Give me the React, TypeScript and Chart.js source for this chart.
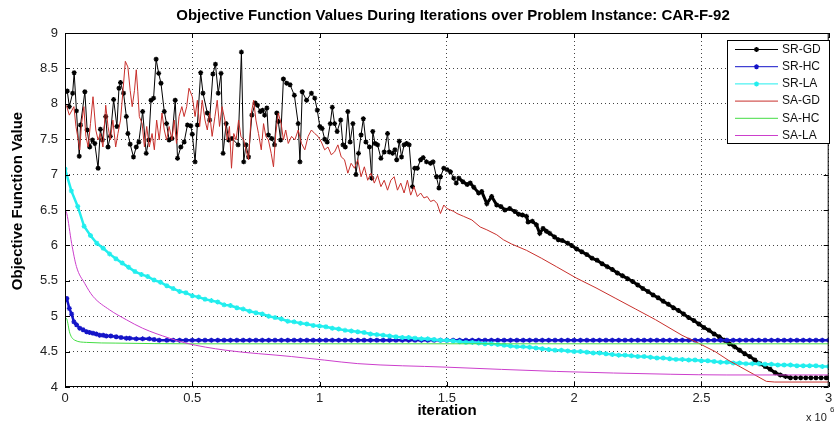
import React, { useEffect, useRef } from 'react';
import { Chart, registerables } from 'chart.js';

Chart.register(...registerables);

const FONT = '"Liberation Sans", Arial, sans-serif';

const titleText = 'Objective Function Values During Iterations over Problem Instance: CAR-F-92';
const xTitle = 'iteration';
const yTitle = 'Objective Function Value';
const xTicks = [0, 0.5, 1, 1.5, 2, 2.5, 3];
const yTicks = [4, 4.5, 5, 5.5, 6, 6.5, 7, 7.5, 8, 8.5, 9];
const seriesNames = ['SR-GD', 'SR-HC', 'SR-LA', 'SA-GD', 'SA-HC', 'SA-LA'];

// iteration (x 10^6), objective value
const srgd: [number, number][] = [
  [0, 8.17], [0.009, 8.18], [0.017, 7.96], [0.030, 8.15], [0.036, 8.44], [0.045, 7.90], [0.056, 7.26], [0.061, 7.70],
  [0.078, 8.17], [0.087, 7.63], [0.097, 7.39], [0.108, 7.49], [0.117, 7.44], [0.130, 7.09], [0.139, 7.64], [0.147, 7.49],
  [0.160, 7.82], [0.169, 7.39], [0.178, 7.54], [0.191, 8.06], [0.204, 7.68], [0.212, 8.22], [0.218, 8.30], [0.230, 8.15],
  [0.241, 7.82], [0.247, 7.58], [0.256, 7.43], [0.269, 7.25], [0.280, 7.39], [0.290, 7.46], [0.305, 7.89], [0.319, 7.30],
  [0.329, 7.49], [0.338, 8.05], [0.348, 8.08], [0.358, 8.63], [0.368, 8.43], [0.377, 8.29], [0.390, 7.89], [0.399, 7.72],
  [0.409, 7.49], [0.420, 7.51], [0.433, 8.05], [0.442, 7.23], [0.455, 7.39], [0.468, 7.46], [0.481, 7.70], [0.494, 7.69],
  [0.500, 7.57], [0.511, 7.18], [0.520, 7.70], [0.533, 8.44], [0.542, 8.15], [0.559, 7.87], [0.568, 7.77], [0.581, 8.42],
  [0.591, 8.56], [0.602, 8.15], [0.613, 8.43], [0.621, 7.30], [0.633, 7.72], [0.643, 7.49], [0.656, 7.51], [0.680, 7.42],
  [0.693, 8.73], [0.702, 7.18], [0.711, 7.42], [0.721, 7.25], [0.734, 7.84], [0.747, 8.01], [0.756, 7.98], [0.767, 7.89],
  [0.776, 7.91], [0.784, 7.84], [0.793, 7.94], [0.799, 7.56], [0.812, 7.51], [0.823, 7.42], [0.832, 7.87], [0.838, 7.75],
  [0.847, 7.49], [0.858, 8.35], [0.871, 8.29], [0.884, 8.27], [0.901, 8.12], [0.916, 7.72], [0.923, 7.18], [0.932, 8.17],
  [0.949, 8.05], [0.968, 8.15], [0.981, 8.08], [0.991, 7.91], [1.001, 7.68], [1.010, 7.65], [1.020, 7.50], [1.030, 7.46],
  [1.042, 7.72], [1.050, 7.95], [1.059, 7.72], [1.069, 7.61], [1.083, 7.77], [1.092, 7.42], [1.101, 7.39], [1.111, 7.89],
  [1.120, 7.46], [1.131, 7.72], [1.143, 7.00], [1.153, 7.30], [1.163, 7.56], [1.172, 7.79], [1.182, 7.46], [1.196, 7.39],
  [1.205, 6.95], [1.209, 7.61], [1.218, 7.44], [1.228, 7.42], [1.241, 7.23], [1.254, 7.32], [1.267, 7.58], [1.274, 7.32],
  [1.287, 7.30], [1.296, 7.35], [1.303, 7.21], [1.313, 7.47], [1.322, 7.25], [1.332, 7.42], [1.342, 7.44], [1.352, 7.42],
  [1.365, 6.83], [1.374, 7.09], [1.384, 7.09], [1.397, 7.21], [1.407, 7.24], [1.420, 7.18], [1.436, 7.16], [1.446, 7.18],
  [1.459, 6.97], [1.469, 6.81], [1.475, 6.97], [1.488, 7.09], [1.501, 7.07], [1.514, 7.04], [1.527, 6.95], [1.537, 6.88],
  [1.547, 6.95], [1.563, 6.90], [1.580, 6.86], [1.592, 6.88], [1.606, 6.82], [1.625, 6.74], [1.637, 6.76], [1.657, 6.59],
  [1.676, 6.69], [1.696, 6.57], [1.712, 6.55], [1.728, 6.50], [1.747, 6.52], [1.767, 6.48], [1.782, 6.44], [1.797, 6.43],
  [1.813, 6.41], [1.819, 6.33], [1.836, 6.34], [1.852, 6.29], [1.865, 6.17], [1.878, 6.24], [1.891, 6.20], [1.904, 6.17],
  [1.923, 6.12], [1.938, 6.08], [1.953, 6.07], [1.975, 6.03], [1.99, 6.00], [2.01, 5.95], [2.03, 5.91], [2.05, 5.87],
  [2.07, 5.82], [2.09, 5.79], [2.11, 5.74], [2.13, 5.70], [2.15, 5.66], [2.17, 5.61], [2.19, 5.57], [2.21, 5.53],
  [2.23, 5.49], [2.25, 5.44], [2.27, 5.39], [2.29, 5.35], [2.31, 5.30], [2.33, 5.26], [2.35, 5.21], [2.37, 5.17],
  [2.39, 5.12], [2.41, 5.08], [2.43, 5.03], [2.45, 4.98], [2.47, 4.94], [2.49, 4.89], [2.51, 4.84], [2.53, 4.80],
  [2.55, 4.75], [2.57, 4.71], [2.59, 4.66], [2.61, 4.61], [2.63, 4.57], [2.65, 4.52], [2.67, 4.47], [2.69, 4.43],
  [2.71, 4.38], [2.73, 4.33], [2.75, 4.29], [2.77, 4.25], [2.79, 4.20], [2.81, 4.17], [2.83, 4.15], [2.85, 4.13],
  [2.87, 4.13], [2.89, 4.13], [2.91, 4.13], [2.93, 4.13], [2.95, 4.13], [2.97, 4.13], [2.99, 4.13], [3.0, 4.13],
];

const sagd: [number, number][] = [
  [0, 8.00], [0.007, 7.96], [0.017, 7.84], [0.035, 7.96], [0.043, 7.68], [0.052, 7.49], [0.058, 7.35], [0.065, 7.72],
  [0.074, 7.96], [0.082, 7.54], [0.091, 7.39], [0.100, 7.72], [0.110, 8.10], [0.121, 7.63], [0.130, 7.49], [0.139, 7.58],
  [0.149, 7.39], [0.160, 7.98], [0.169, 7.68], [0.178, 7.49], [0.188, 7.77], [0.199, 7.39], [0.208, 7.58], [0.218, 7.77],
  [0.227, 8.15], [0.237, 8.60], [0.247, 8.52], [0.256, 8.19], [0.264, 7.96], [0.273, 8.19], [0.280, 8.48], [0.286, 8.17],
  [0.292, 7.82], [0.303, 7.72], [0.312, 7.39], [0.321, 7.68], [0.331, 7.39], [0.342, 7.58], [0.351, 7.35], [0.360, 7.77],
  [0.370, 7.49], [0.381, 7.87], [0.390, 7.63], [0.399, 7.49], [0.409, 7.68], [0.420, 7.49], [0.429, 7.77], [0.438, 7.44],
  [0.448, 7.82], [0.459, 7.96], [0.468, 7.82], [0.478, 7.96], [0.487, 8.22], [0.500, 8.10], [0.511, 7.82], [0.520, 8.05],
  [0.529, 7.68], [0.539, 8.05], [0.550, 7.77], [0.559, 7.63], [0.568, 7.87], [0.578, 7.54], [0.589, 7.82], [0.598, 8.05],
  [0.607, 7.68], [0.617, 7.96], [0.628, 7.77], [0.637, 7.49], [0.646, 7.68], [0.654, 7.09], [0.663, 7.58], [0.672, 7.49],
  [0.682, 7.77], [0.691, 7.54], [0.702, 7.49], [0.711, 7.35], [0.721, 7.21], [0.732, 7.87], [0.741, 8.05], [0.750, 7.77],
  [0.760, 7.58], [0.771, 7.35], [0.780, 7.72], [0.789, 7.54], [0.799, 7.49], [0.810, 7.30], [0.819, 7.11], [0.828, 7.58],
  [0.838, 7.87], [0.849, 7.72], [0.858, 7.49], [0.867, 7.63], [0.877, 7.44], [0.890, 7.54], [0.903, 7.49], [0.916, 7.63],
  [0.929, 7.44], [0.942, 7.35], [0.955, 7.54], [0.968, 7.63], [0.981, 7.58], [0.994, 7.54], [1.007, 7.46], [1.020, 7.35],
  [1.033, 7.39], [1.046, 7.28], [1.059, 7.32], [1.072, 7.42], [1.085, 7.25], [1.098, 7.21], [1.111, 7.02], [1.124, 7.16],
  [1.137, 7.09], [1.150, 7.21], [1.163, 6.97], [1.176, 7.11], [1.189, 6.92], [1.202, 7.02], [1.215, 6.88], [1.228, 6.99],
  [1.241, 6.83], [1.254, 6.92], [1.267, 6.78], [1.280, 6.92], [1.293, 6.97], [1.306, 6.78], [1.319, 6.88], [1.332, 6.74],
  [1.345, 6.92], [1.358, 6.71], [1.371, 6.83], [1.384, 6.69], [1.397, 6.74], [1.410, 6.67], [1.423, 6.69], [1.436, 6.62],
  [1.449, 6.64], [1.462, 6.59], [1.475, 6.45], [1.488, 6.57], [1.501, 6.52], [1.514, 6.50], [1.527, 6.48], [1.540, 6.45],
  [1.566, 6.41], [1.598, 6.36], [1.631, 6.26], [1.657, 6.22], [1.696, 6.15], [1.722, 6.08], [1.754, 6.02], [1.813, 5.93],
  [1.871, 5.82], [1.930, 5.70], [2.008, 5.54], [2.086, 5.40], [2.164, 5.25], [2.242, 5.10], [2.320, 4.95], [2.424, 4.73],
  [2.488, 4.62], [2.554, 4.50], [2.605, 4.38], [2.655, 4.28], [2.710, 4.17], [2.755, 4.08], [2.788, 4.07], [3.0, 4.07],
];

const gridX = [
  0, 0.025, 0.05, 0.075, 0.1, 0.125, 0.15, 0.175, 0.2, 0.225,
  0.25, 0.275, 0.3, 0.325, 0.35, 0.375, 0.4, 0.425, 0.45, 0.475,
  0.5, 0.525, 0.55, 0.575, 0.6, 0.625, 0.65, 0.675, 0.7, 0.725,
  0.75, 0.775, 0.8, 0.825, 0.85, 0.875, 0.9, 0.925, 0.95, 0.975,
  1, 1.025, 1.05, 1.075, 1.1, 1.125, 1.15, 1.175, 1.2, 1.225,
  1.25, 1.275, 1.3, 1.325, 1.35, 1.375, 1.4, 1.425, 1.45, 1.475,
  1.5, 1.525, 1.55, 1.575, 1.6, 1.625, 1.65, 1.675, 1.7, 1.725,
  1.75, 1.775, 1.8, 1.825, 1.85, 1.875, 1.9, 1.925, 1.95, 1.975,
  2, 2.025, 2.05, 2.075, 2.1, 2.125, 2.15, 2.175, 2.2, 2.225,
  2.25, 2.275, 2.3, 2.325, 2.35, 2.375, 2.4, 2.425, 2.45, 2.475,
  2.5, 2.525, 2.55, 2.575, 2.6, 2.625, 2.65, 2.675, 2.7, 2.725,
  2.75, 2.775, 2.8, 2.825, 2.85, 2.875, 2.9, 2.925, 2.95, 2.975,
  3,
];

const srlaY = [
  7.08, 6.77, 6.55, 6.27, 6.14, 6.03, 5.96, 5.88, 5.81, 5.75,
  5.69, 5.63, 5.59, 5.56, 5.51, 5.48, 5.43, 5.39, 5.35, 5.33,
  5.29, 5.27, 5.24, 5.22, 5.20, 5.16, 5.15, 5.12, 5.10, 5.07,
  5.05, 5.03, 5.00, 4.98, 4.96, 4.93, 4.92, 4.90, 4.89, 4.87,
  4.86, 4.85, 4.83, 4.82, 4.80, 4.79, 4.78, 4.77, 4.75, 4.74,
  4.73, 4.72, 4.71, 4.70, 4.70, 4.69, 4.68, 4.68, 4.67, 4.66,
  4.66, 4.65, 4.64, 4.63, 4.63, 4.62, 4.61, 4.61, 4.60, 4.59,
  4.58, 4.57, 4.57, 4.56, 4.55, 4.54, 4.53, 4.52, 4.52, 4.51,
  4.50, 4.50, 4.49, 4.48, 4.48, 4.47, 4.46, 4.45, 4.45, 4.44,
  4.43, 4.43, 4.42, 4.41, 4.41, 4.40, 4.39, 4.39, 4.38, 4.38,
  4.37, 4.37, 4.36, 4.35, 4.35, 4.34, 4.34, 4.33, 4.33, 4.33,
  4.32, 4.32, 4.31, 4.31, 4.31, 4.30, 4.30, 4.30, 4.30, 4.29,
  4.29,
];

const srhcStart: [number, number][] = [
  [0, 5.23], [0.007, 5.25], [0.017, 5.11], [0.026, 5.03], [0.035, 4.92], [0.045, 4.88], [0.058, 4.83], [0.071, 4.81],
  [0.085, 4.78], [0.097, 4.77], [0.110, 4.76], [0.123, 4.75], [0.136, 4.73], [0.150, 4.73], [0.162, 4.72], [0.180, 4.72],
  [0.201, 4.71], [0.220, 4.70], [0.241, 4.69], [0.254, 4.69], [0.280, 4.68], [0.305, 4.68], [0.331, 4.68], [0.350, 4.67],
  [0.370, 4.66],
];
// SR-HC values on gridX from 0.4 onward
const srhcFlatY = [
  4.66, 4.66, 4.66, 4.66,
  4.66, 4.66, 4.66, 4.66, 4.66, 4.66, 4.66, 4.66, 4.66, 4.66,
  4.66, 4.66, 4.66, 4.66, 4.66, 4.66, 4.66, 4.66, 4.66, 4.66,
  4.66, 4.66, 4.66, 4.66, 4.66, 4.66, 4.66, 4.66, 4.66, 4.66,
  4.66, 4.66, 4.66, 4.66, 4.66, 4.66, 4.66, 4.66, 4.66, 4.66,
  4.66, 4.66, 4.66, 4.66, 4.66, 4.66, 4.66, 4.66, 4.66, 4.66,
  4.66, 4.66, 4.66, 4.66, 4.66, 4.66, 4.66, 4.66, 4.66, 4.66,
  4.66, 4.66, 4.66, 4.66, 4.66, 4.66, 4.66, 4.66, 4.66, 4.66,
  4.66, 4.66, 4.66, 4.66, 4.66, 4.66, 4.66, 4.66, 4.66, 4.66,
  4.66, 4.66, 4.66, 4.66, 4.66, 4.66, 4.66, 4.66, 4.66, 4.66,
  4.66, 4.66, 4.66, 4.66, 4.66, 4.66, 4.66, 4.66, 4.66, 4.66,
  4.66,
];

const sahc: [number, number][] = [
  [0, 4.98], [0.007, 4.96], [0.019, 4.76], [0.039, 4.66], [0.085, 4.63], [0.2, 4.62], [0.5, 4.61], [3.0, 4.61],
];

const sala: [number, number][] = [
  [0, 6.50], [0.007, 6.45], [0.026, 6.03], [0.045, 5.70], [0.078, 5.46], [0.110, 5.28], [0.175, 5.09], [0.241, 4.95],
  [0.305, 4.83], [0.410, 4.69], [0.475, 4.62], [0.630, 4.52], [0.890, 4.43], [1.020, 4.38], [1.150, 4.33], [1.500, 4.28],
  [1.930, 4.22], [2.380, 4.18], [2.600, 4.17], [3.0, 4.17],
];

const colors = ['#000000', '#1414c8', '#22eeee', '#c8302c', '#44dd44', '#cc3fcc'];

const pairs = (p: [number, number][]) => p.map(([x, y]) => ({ x, y }));
const onGrid = (xs: number[], ys: number[]) => ys.map((y, i) => ({ x: xs[i], y }));

function drawStar(ctx: CanvasRenderingContext2D, x: number, y: number, r: number, color: string) {
  ctx.save();
  ctx.strokeStyle = color;
  ctx.lineWidth = 1.3;
  ctx.beginPath();
  ctx.moveTo(x - r, y); ctx.lineTo(x + r, y);
  ctx.moveTo(x, y - r); ctx.lineTo(x, y + r);
  const d = r * 0.707;
  ctx.moveTo(x - d, y - d); ctx.lineTo(x + d, y + d);
  ctx.moveTo(x - d, y + d); ctx.lineTo(x + d, y - d);
  ctx.stroke();
  ctx.restore();
}

const decor = {
  id: 'decor',
  afterDraw(chart: any) {
    const { ctx, chartArea: ca, scales } = chart;
    const xs = scales.x;
    const ys = scales.y;
    ctx.save();
    ctx.setLineDash([]);
    ctx.strokeStyle = '#000';
    ctx.lineWidth = 1;
    ctx.strokeRect(ca.left + 0.5, ca.top + 0.5, ca.right - ca.left - 1, ca.bottom - ca.top - 1);
    ctx.beginPath();
    xTicks.forEach((v) => {
      const px = Math.round(xs.getPixelForValue(v)) + 0.5;
      ctx.moveTo(px, ca.bottom); ctx.lineTo(px, ca.bottom - 5);
      ctx.moveTo(px, ca.top); ctx.lineTo(px, ca.top + 5);
    });
    yTicks.forEach((v) => {
      const py = Math.round(ys.getPixelForValue(v)) + 0.5;
      ctx.moveTo(ca.left, py); ctx.lineTo(ca.left + 5, py);
      ctx.moveTo(ca.right, py); ctx.lineTo(ca.right - 5, py);
    });
    ctx.stroke();

    // title
    ctx.fillStyle = '#000';
    ctx.font = `bold 15px ${FONT}`;
    ctx.textAlign = 'center';
    ctx.textBaseline = 'middle';
    ctx.fillText(titleText, 453, 16);

    // axis titles
    ctx.font = `bold 15px ${FONT}`;
    ctx.fillText(xTitle, 447, 411);
    ctx.save();
    ctx.translate(18, 201);
    ctx.rotate(-Math.PI / 2);
    ctx.fillText(yTitle, 0, 0);
    ctx.restore();

    // exponent
    ctx.fillStyle = '#222';
    ctx.textAlign = 'left';
    ctx.font = `11px ${FONT}`;
    ctx.fillText('x 10', 806, 418);
    ctx.font = `8px ${FONT}`;
    ctx.fillText('6', 830, 410);

    // legend
    const lx = 727.5, ly = 40.5, lw = 102, lh = 103;
    ctx.fillStyle = '#fff';
    ctx.fillRect(lx, ly, lw, lh);
    ctx.strokeStyle = '#000';
    ctx.strokeRect(lx, ly, lw, lh);
    ctx.font = `12px ${FONT}`;
    ctx.textBaseline = 'middle';
    chart.data.datasets.forEach((ds: any, i: number) => {
      const yy = 49.5 + i * 17.2;
      ctx.strokeStyle = ds.borderColor;
      ctx.lineWidth = 1;
      ctx.beginPath();
      ctx.moveTo(735, yy); ctx.lineTo(778, yy);
      ctx.stroke();
      if (ds.pointRadius > 0) drawStar(ctx, 756.5, yy, 2.5, ds.borderColor);
      ctx.fillStyle = '#111';
      ctx.fillText(ds.label, 782, yy);
    });
    ctx.restore();
  },
};

export default function App() {
  const ref = useRef<HTMLCanvasElement>(null);
  useEffect(() => {
    document.body.style.margin = '0';
    const canvas = ref.current;
    if (!canvas) return;
    const marker = (c: string, r: number) => ({
      pointStyle: 'star', pointRadius: r, pointBorderColor: c, pointBackgroundColor: c, pointBorderWidth: 1.3,
    });
    const datasets: any[] = [
      {
        label: seriesNames[0], data: pairs(srgd), borderColor: colors[0], borderWidth: 1, order: 6, ...marker(colors[0], 2.5),
        segment: { borderWidth: (c: any) => (c.p0.parsed.x > 1.54 && c.p0.parsed.x < 2.84 ? 3 : 1) },
      },
      { label: seriesNames[1], data: [...pairs(srhcStart), ...onGrid(gridX.slice(16), srhcFlatY)], borderColor: colors[1], borderWidth: 2.5, order: 5, ...marker(colors[1], 2.5) },
      { label: seriesNames[2], data: onGrid(gridX, srlaY), borderColor: colors[2], borderWidth: 2.5, order: 4, ...marker(colors[2], 2.5) },
      { label: seriesNames[3], data: pairs(sagd), borderColor: colors[3], borderWidth: 1, order: 3, pointRadius: 0 },
      { label: seriesNames[4], data: pairs(sahc), borderColor: colors[4], borderWidth: 1, order: 2, pointRadius: 0, cubicInterpolationMode: 'monotone' },
      { label: seriesNames[5], data: pairs(sala), borderColor: colors[5], borderWidth: 1, order: 1, pointRadius: 0, cubicInterpolationMode: 'monotone' },
    ];
    const chart = new Chart(canvas, {
      type: 'scatter',
      data: { datasets: datasets.map((d) => ({ showLine: true, tension: 0, fill: false, ...d })) },
      options: {
        responsive: false,
        animation: false,
        devicePixelRatio: 1,
        events: [],
        layout: { padding: { left: 0, right: 0, top: 33, bottom: 0 } },
        plugins: { legend: { display: false }, title: { display: false }, tooltip: { enabled: false } },
        scales: {
          x: {
            type: 'linear', min: 0, max: 3,
            afterBuildTicks: (s: any) => { s.ticks = xTicks.map((v) => ({ value: v })); },
            afterFit: (s: any) => { s.height = 36; s.paddingLeft = 0; s.paddingRight = 0; },
            grid: { color: '#444', drawTicks: false, lineWidth: 1 },
            border: { display: false, dash: [1, 3] },
            ticks: { padding: 4, color: '#222', font: { family: FONT, size: 13 }, maxRotation: 0, autoSkip: false, callback: (v: any) => String(v) },
          },
          y: {
            type: 'linear', min: 4, max: 9,
            afterBuildTicks: (s: any) => { s.ticks = yTicks.map((v) => ({ value: v })); },
            afterFit: (s: any) => { s.width = 65; s.paddingTop = 0; s.paddingBottom = 0; },
            grid: { color: '#444', drawTicks: false, lineWidth: 1 },
            border: { display: false, dash: [1, 3] },
            ticks: { padding: 7, color: '#222', font: { family: FONT, size: 13 }, autoSkip: false, callback: (v: any) => String(v) },
          },
        },
      },
      plugins: [decor],
    } as any);
    return () => chart.destroy();
  }, []);
  return (
    <div style={{ position: 'fixed', left: 0, top: 0, width: 834, height: 423, background: '#fff' }}>
      <canvas ref={ref} width={834} height={423} style={{ width: 834, height: 423, display: 'block' }} />
    </div>
  );
}
